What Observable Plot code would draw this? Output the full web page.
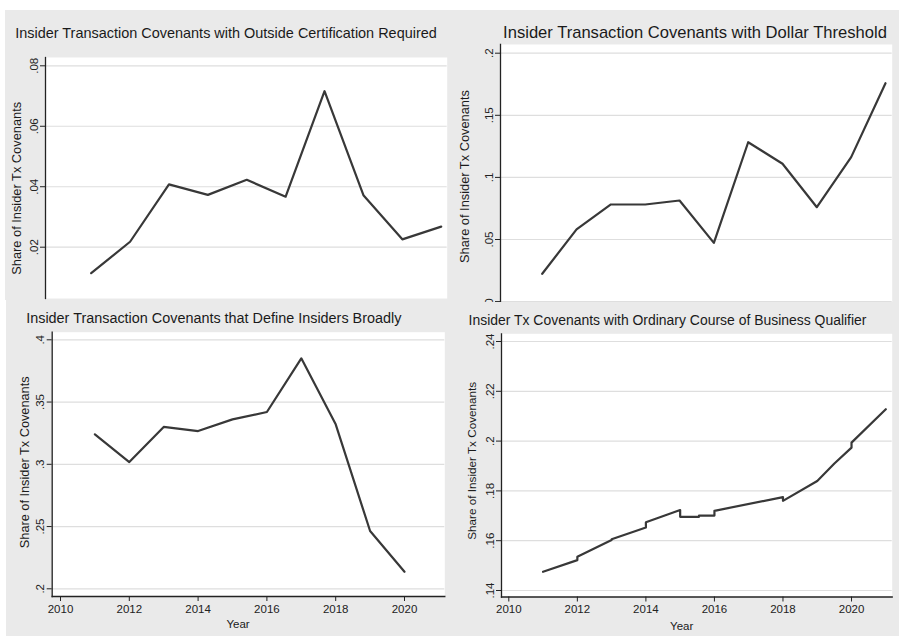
<!DOCTYPE html>
<html>
<head>
<meta charset="utf-8">
<script src="https://cdn.jsdelivr.net/npm/d3@7"></script>
<script src="https://cdn.jsdelivr.net/npm/@observablehq/plot@0.6"></script>
<style>
  body { margin: 0; background: #fff; }
  #root { position: relative; width: 899px; height: 636px; overflow: hidden; background: #fff; font-family: "Liberation Sans", Arial, sans-serif; }
  .panel { position: absolute; background: #eaeaea; overflow: hidden; }
  .panel svg { display: block; }
</style>
</head>
<body>
<div id="root"></div>
<script>
// ---------- data ----------
const certYears = [2011, 2012, 2013, 2014, 2015, 2016, 2017, 2018, 2019, 2020];
const certShare = [0.0114, 0.0218, 0.0408, 0.0373, 0.0423, 0.0367, 0.0716, 0.0372, 0.0226, 0.0268];

const dollarYears = [2011, 2012, 2013, 2014, 2015, 2016, 2017, 2018, 2019, 2020, 2021];
const dollarShare = [0.0224, 0.0582, 0.0782, 0.0782, 0.0814, 0.0473, 0.1283, 0.1110, 0.0760, 0.1163, 0.1758];

const broadYears = [2011, 2012, 2013, 2014, 2015, 2016, 2017, 2018, 2019, 2020];
const broadShare = [0.3241, 0.3018, 0.3300, 0.3267, 0.3361, 0.3420, 0.3851, 0.3321, 0.2464, 0.2137];

// stepped series: value at the start and end of each yearly segment
const ordYear  = [2011, 2012, 2012, 2013, 2013, 2014, 2014, 2015, 2015, 2015.55, 2015.55, 2016, 2016, 2018, 2018, 2019, 2019.5, 2020, 2020, 2021];
const ordShare = [0.1475, 0.1522, 0.1536, 0.1603, 0.1606, 0.1653, 0.1674, 0.1723, 0.1696, 0.1696, 0.1701, 0.1701, 0.1720, 0.1775, 0.1760, 0.1840, 0.1910, 0.1974, 0.1994, 0.2128];

const xTicks = [2010, 2012, 2014, 2016, 2018, 2020];
const certTicks = [0.02, 0.04, 0.06, 0.08];
const dollarTicks = [0, 0.05, 0.1, 0.15, 0.2];
const broadTicks = [0.2, 0.25, 0.3, 0.35, 0.4];
const ordTicks = [0.14, 0.16, 0.18, 0.2, 0.22, 0.24];

const titles = [
  "Insider Transaction Covenants with Outside Certification Required",
  "Insider Transaction Covenants with Dollar Threshold",
  "Insider Transaction Covenants that Define Insiders Broadly",
  "Insider Tx Covenants with Ordinary Course of Business Qualifier"
];
const yLabel = "Share of Insider Tx Covenants";
const xLabel = "Year";

// ---------- layout (page coordinates) ----------
const panels = [
  { x: certYears, y: certShare, ticks: certTicks, title: titles[0], xDomain: [2010, 2020], xAxis: false,
    box: [5, 10, 445, 290], frame: [45, 446.7, 57, 298], inset: [6.8, 6, 8.3, 51.3],
    t: { cx: 226, base: 38.3, len: 422, size: 15 }, yl: { cx: 16.7, cy: 188.3, len: 173, size: 12.5 } },
  { x: dollarYears, y: dollarShare, ticks: dollarTicks, title: titles[1], xDomain: [2010, 2021], xAxis: false,
    box: [450, 10, 449, 292], frame: [500, 891.7, 44, 302], inset: [7.4, 6.7, 8.7, 0.9],
    t: { cx: 695, base: 38.3, len: 384, size: 17 }, yl: { cx: 465, cy: 176.5, len: 173, size: 12.5 } },
  { x: broadYears, y: broadShare, ticks: broadTicks, title: titles[2], xDomain: [2010, 2021], xAxis: true,
    box: [6, 300, 444, 336], frame: [51.7, 444.3, 331.7, 596], inset: [8.3, 5.9, 7.6, 7.7],
    t: { cx: 213.8, base: 322.7, len: 375.7, size: 15 }, yl: { cx: 25, cy: 462.3, len: 172, size: 12.5 },
    xl: { cx: 238, base: 628.3 } },
  { x: ordYear, y: ordShare, ticks: ordTicks, title: titles[3], xDomain: [2010, 2021], xAxis: true,
    box: [450, 302, 449, 334], frame: [501, 891.7, 333.3, 596.5], inset: [7.3, 6.4, 7.7, 6.5],
    t: { cx: 667.5, base: 325, len: 398.4, size: 15 }, yl: { cx: 471.7, cy: 460.8, len: 158, size: 11.5 },
    xl: { cx: 681.7, base: 630.3 } }
];

const fmt = d => String(d).replace(/^0\./, ".");
const root = document.getElementById("root");
const FONT = '"Liberation Sans", Arial, sans-serif';

for (const p of panels) {
  const [bl, bt, bw, bh] = p.box;
  const div = document.createElement("div");
  div.className = "panel";
  Object.assign(div.style, { left: bl + "px", top: bt + "px", width: bw + "px", height: bh + "px" });
  const data = p.x.map((x, i) => ({ year: x, share: p.y[i] }));
  const marks = [
    Plot.frame({ fill: "white", stroke: null }),
    Plot.gridY(p.ticks, { stroke: "#dedede", strokeOpacity: 1, strokeWidth: 1.2 }),
    Plot.axisY(p.ticks, { tickFormat: fmt, tickRotate: -90, tickSize: 5, tickPadding: 3, label: null, fontSize: 11.5, stroke: "#222", fill: "#222" }),
    Plot.frame({ anchor: "left", stroke: "#222", strokeWidth: 1.3 })
  ];
  if (p.xAxis) {
    marks.push(Plot.axisX(xTicks, { tickFormat: d => String(d), tickSize: 5, tickPadding: 3, label: null, fontSize: 11.5, stroke: "#222", fill: "#222" }));
    marks.push(Plot.frame({ anchor: "bottom", stroke: "#222", strokeWidth: 1.3 }));
  }
  marks.push(Plot.line(data, { x: "year", y: "share", stroke: "#383838", strokeWidth: 2.2, strokeLinejoin: "round" }));

  const chart = Plot.plot({
    width: bw, height: bh,
    marginLeft: p.frame[0] - bl, marginRight: bl + bw - p.frame[1],
    marginTop: p.frame[2] - bt, marginBottom: bt + bh - p.frame[3],
    insetLeft: p.inset[0], insetRight: p.inset[1], insetTop: p.inset[2], insetBottom: p.inset[3],
    style: { background: "#eaeaea", fontFamily: FONT, fontSize: "11.5px", color: "#222", overflow: "visible" },
    x: p.xAxis ? { domain: p.xDomain } : { domain: p.xDomain, axis: null },
    y: { domain: [d3.min(p.ticks), d3.max(p.ticks)] },
    marks
  });
  div.appendChild(chart);
  root.appendChild(div);

  const svg = d3.select(chart);
  // title: natural glyphs, squeezed horizontally to the reference width
  const tt = svg.append("text")
    .attr("text-anchor", "middle")
    .style("font-size", p.t.size + "px").style("font-family", FONT).attr("fill", "#1a1a1a")
    .text(p.title);
  const tw = tt.node().getComputedTextLength();
  tt.attr("transform", `translate(${p.t.cx - bl},${p.t.base - bt}) scale(${p.t.len / tw},1)`);

  const yt = svg.append("text")
    .attr("text-anchor", "middle").attr("dy", "0.35em")
    .style("font-size", p.yl.size + "px").style("font-family", FONT).attr("fill", "#1a1a1a")
    .text(yLabel);
  const yw = yt.node().getComputedTextLength();
  yt.attr("transform", `translate(${p.yl.cx - bl},${p.yl.cy - bt}) rotate(-90) scale(${p.yl.len / yw},1)`);

  if (p.xl) {
    svg.append("text")
      .attr("x", p.xl.cx - bl).attr("y", p.xl.base - bt)
      .attr("text-anchor", "middle")
      .style("font-size", "11.5px").style("font-family", FONT).attr("fill", "#1a1a1a")
      .text(xLabel);
  }
}
</script>
</body>
</html>
